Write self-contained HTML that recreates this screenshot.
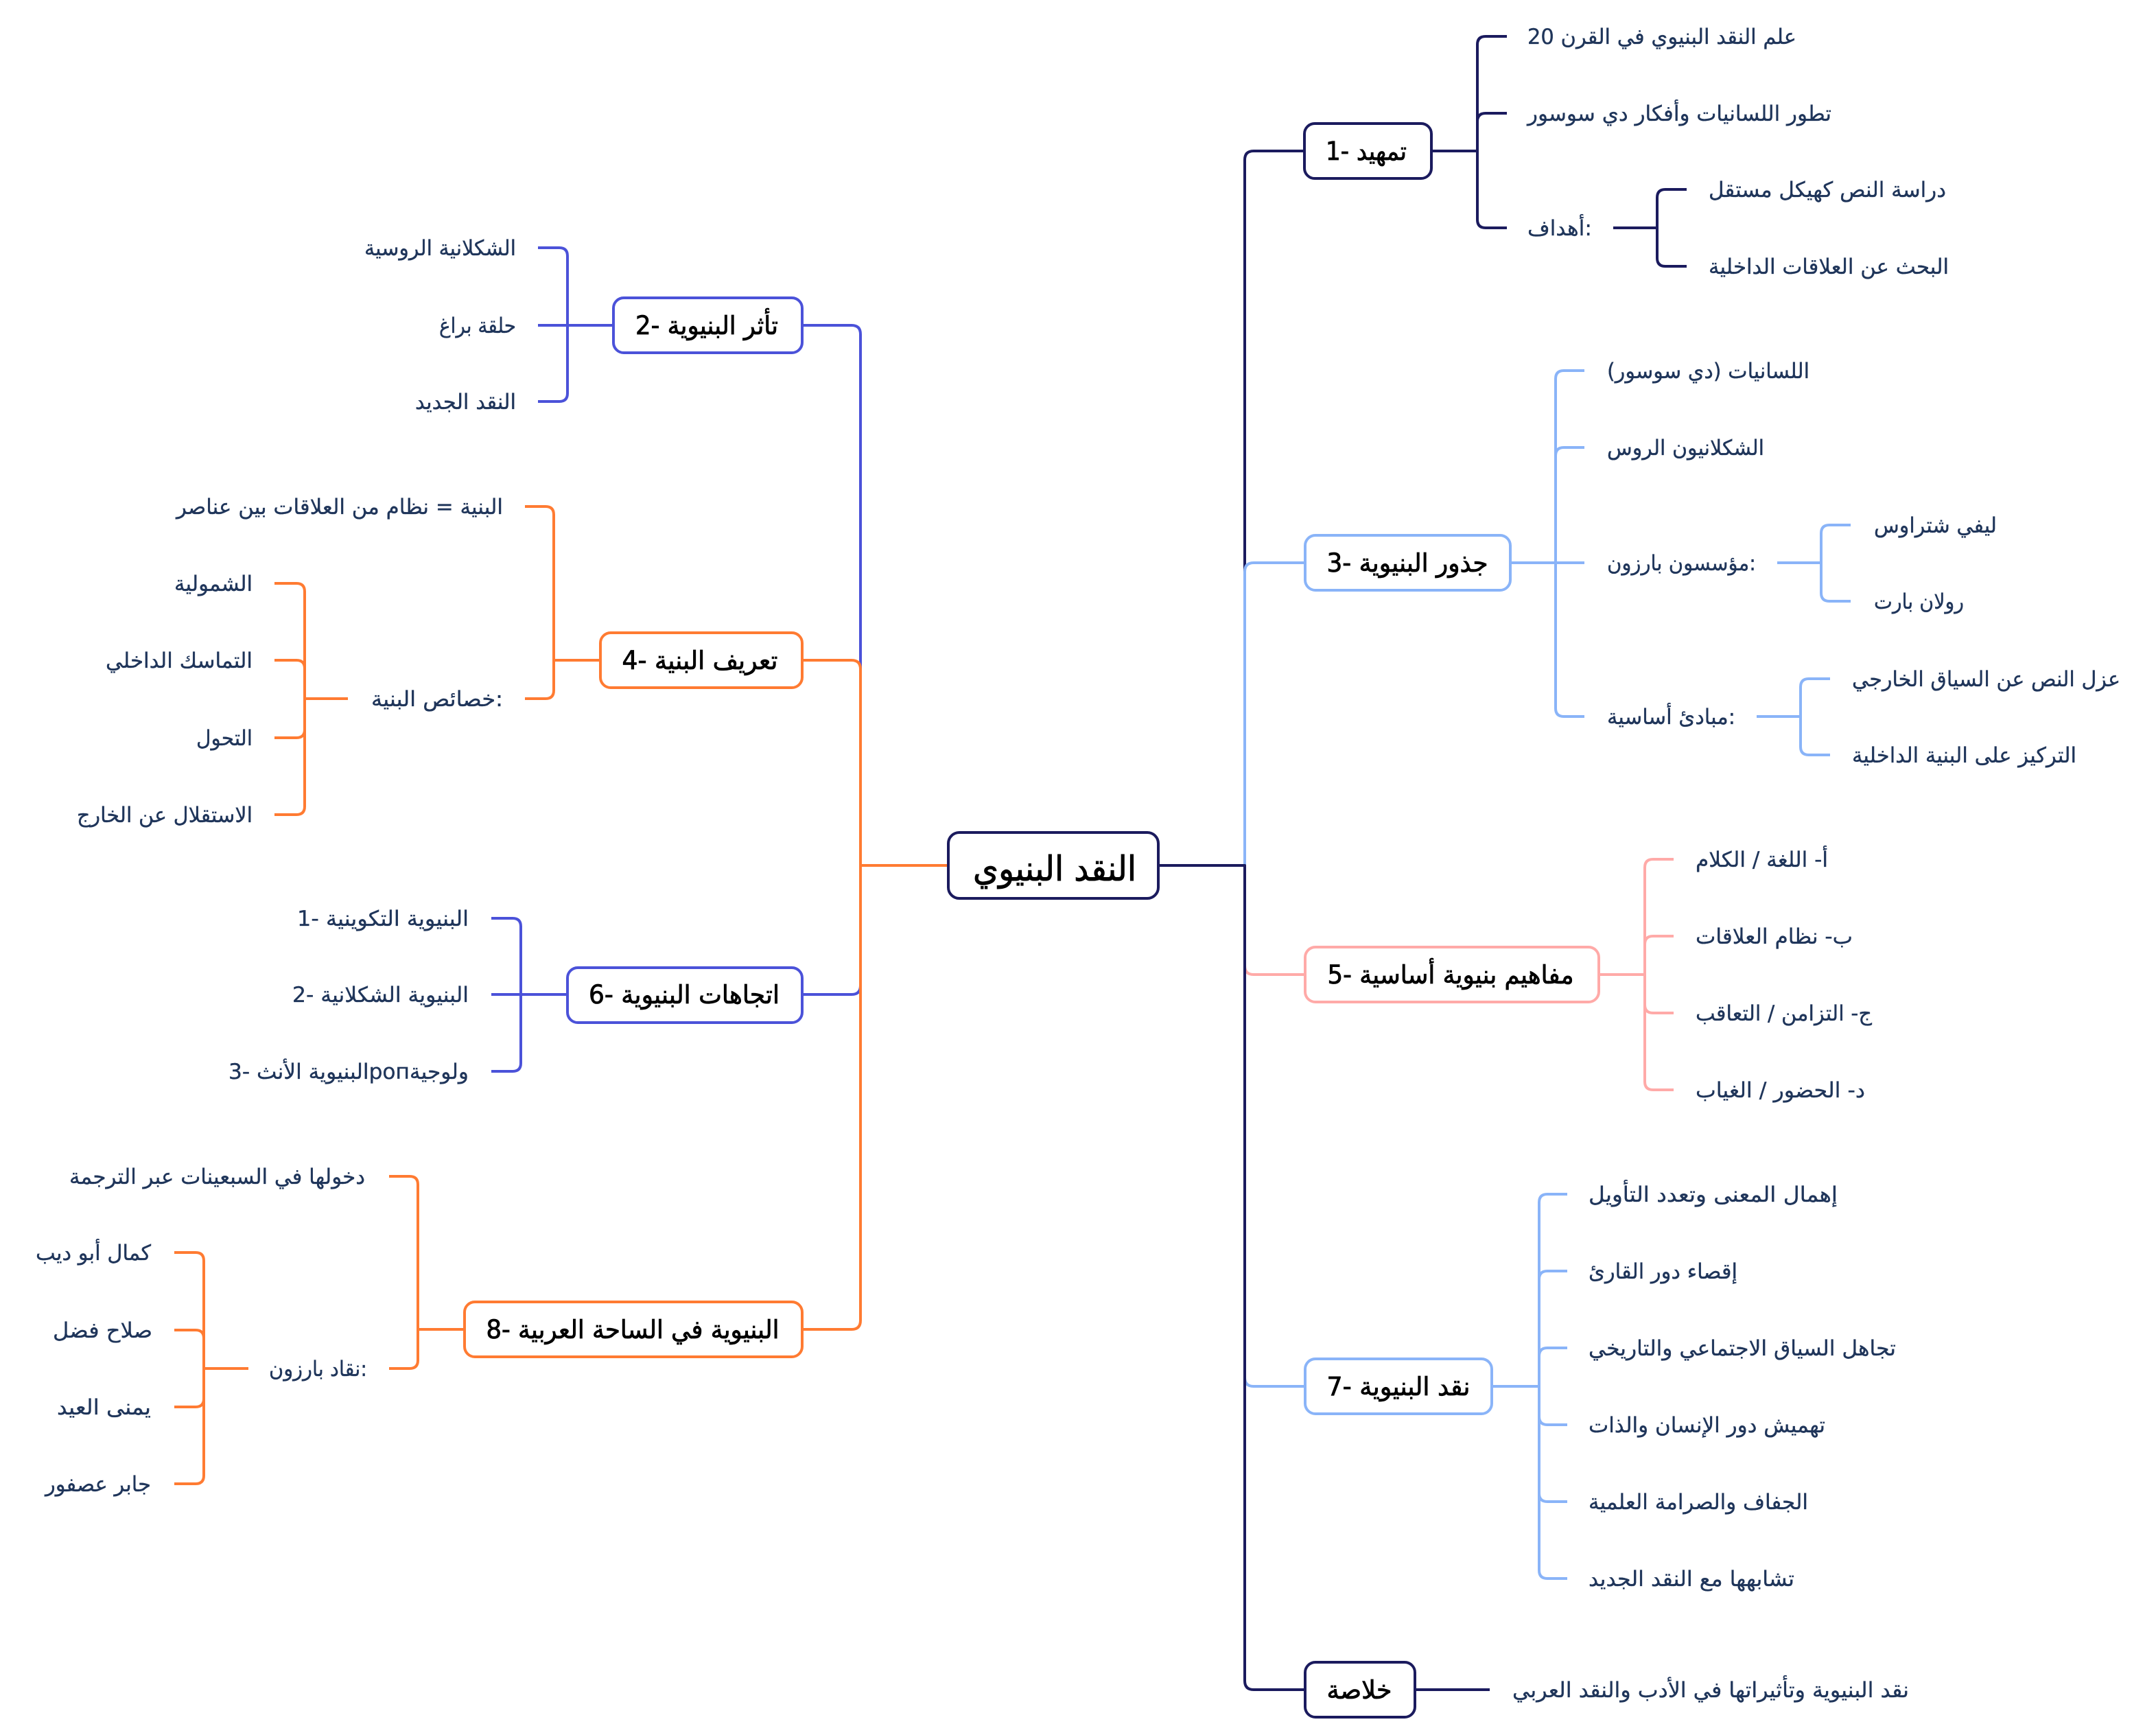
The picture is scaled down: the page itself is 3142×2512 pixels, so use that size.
<!DOCTYPE html>
<html><head><meta charset="utf-8"><style>
html,body{margin:0;padding:0;background:#fff;}
svg{display:block;}
.t{font-family:"DejaVu Sans",sans-serif;font-size:31px;fill:#1f355a;stroke:#1f355a;stroke-width:0.35px;}
.h{font-family:"DejaVu Sans",sans-serif;font-size:37px;fill:#000;stroke:#000;stroke-width:0.8px;}
.c{font-family:"DejaVu Sans",sans-serif;font-size:50px;fill:#000;stroke:#000;stroke-width:0.9px;}
.l{fill:none;stroke-width:4;stroke-linecap:butt;stroke-linejoin:round;}
.nv{stroke:#1b1b5e;} .lb{stroke:#8ab4f8;} .pk{stroke:#ffaaa8;} .ind{stroke:#4b52d9;} .or{stroke:#ff7b32;}
.b{fill:#fff;stroke-width:4;}
</style></head><body>
<svg width="3142" height="2512" viewBox="0 0 3142 2512" xmlns="http://www.w3.org/2000/svg">
<rect width="3142" height="2512" fill="#fff"/>

<!-- main right trunk -->
<path class="l nv" d="M1814 1261 V233 Q1814 220 1827 220 H1901"/>
<path class="l lb" d="M1814 1261 V833 Q1814 820 1827 820 H1902"/>
<path class="l pk" d="M1814 1261 V1407 Q1814 1420 1827 1420 H1902"/>
<path class="l lb" d="M1814 1261 V2007 Q1814 2020 1827 2020 H1902"/>
<path class="l nv" d="M1688 1261 H1814 V2449 Q1814 2462 1827 2462 H1902"/>

<!-- main left trunk -->
<path class="l ind" d="M1254 1261 V487 Q1254 474 1241 474 H1169"/>
<path class="l or" d="M1254 1261 V975 Q1254 962 1241 962 H1169"/>
<path class="l ind" d="M1254 1261 V1436 Q1254 1449 1241 1449 H1169"/>
<path class="l or" d="M1382 1261 H1254 V1924 Q1254 1937 1241 1937 H1169"/>

<!-- group 1 -->
<g class="l nv">
<path d="M2086 220 H2153"/>
<path d="M2153 220 V65 Q2153 53 2165 53 H2196"/>
<path d="M2153 220 V177 Q2153 165 2165 165 H2196"/>
<path d="M2153 220 V320 Q2153 332 2165 332 H2196"/>
<path d="M2351 332 H2415"/>
<path d="M2415 332 V288 Q2415 276 2427 276 H2458"/>
<path d="M2415 332 V376 Q2415 388 2427 388 H2458"/>
</g>
<!-- group 3 -->
<g class="l lb">
<path d="M2201 820 H2267"/>
<path d="M2267 820 V552 Q2267 540 2279 540 H2309"/>
<path d="M2267 820 V664 Q2267 652 2279 652 H2309"/>
<path d="M2267 820 H2309"/>
<path d="M2267 820 V1032 Q2267 1044 2279 1044 H2309"/>
<path d="M2590 820 H2654"/>
<path d="M2654 820 V777 Q2654 765 2666 765 H2697"/>
<path d="M2654 820 V864 Q2654 876 2666 876 H2697"/>
<path d="M2560 1044 H2624"/>
<path d="M2624 1044 V1001 Q2624 989 2636 989 H2667"/>
<path d="M2624 1044 V1088 Q2624 1100 2636 1100 H2667"/>
</g>
<!-- group 5 -->
<g class="l pk">
<path d="M2330 1420 H2397"/>
<path d="M2397 1420 V1264 Q2397 1252 2409 1252 H2439"/>
<path d="M2397 1420 V1376 Q2397 1364 2409 1364 H2439"/>
<path d="M2397 1420 V1464 Q2397 1476 2409 1476 H2439"/>
<path d="M2397 1420 V1576 Q2397 1588 2409 1588 H2439"/>
</g>
<!-- group 7 -->
<g class="l lb">
<path d="M2174 2020 H2243"/>
<path d="M2243 2020 V1752 Q2243 1740 2255 1740 H2284"/>
<path d="M2243 2020 V1864 Q2243 1852 2255 1852 H2284"/>
<path d="M2243 2020 V1976 Q2243 1964 2255 1964 H2284"/>
<path d="M2243 2020 V2064 Q2243 2076 2255 2076 H2284"/>
<path d="M2243 2020 V2176 Q2243 2188 2255 2188 H2284"/>
<path d="M2243 2020 V2288 Q2243 2300 2255 2300 H2284"/>
</g>
<!-- khulasa -->
<path class="l nv" d="M2062 2462 H2171"/>

<!-- group 2 -->
<g class="l ind">
<path d="M894 474 H827"/>
<path d="M827 474 V373 Q827 361 815 361 H784"/>
<path d="M827 474 H784"/>
<path d="M827 474 V573 Q827 585 815 585 H784"/>
</g>
<!-- group 4 -->
<g class="l or">
<path d="M875 962 H807"/>
<path d="M807 962 V750 Q807 738 795 738 H765"/>
<path d="M807 962 V1006 Q807 1018 795 1018 H765"/>
<path d="M507 1018 H444"/>
<path d="M444 1018 V862 Q444 850 432 850 H400"/>
<path d="M444 1018 V974 Q444 962 432 962 H400"/>
<path d="M444 1018 V1063 Q444 1075 432 1075 H400"/>
<path d="M444 1018 V1175 Q444 1187 432 1187 H400"/>
</g>
<!-- group 6 -->
<g class="l ind">
<path d="M827 1449 H759"/>
<path d="M759 1449 V1350 Q759 1338 747 1338 H716"/>
<path d="M759 1449 H716"/>
<path d="M759 1449 V1549 Q759 1561 747 1561 H716"/>
</g>
<!-- group 8 -->
<g class="l or">
<path d="M677 1937 H609"/>
<path d="M609 1937 V1726 Q609 1714 597 1714 H567"/>
<path d="M609 1937 V1982 Q609 1994 597 1994 H567"/>
<path d="M362 1994 H297"/>
<path d="M297 1994 V1837 Q297 1825 285 1825 H254"/>
<path d="M297 1994 V1950 Q297 1938 285 1938 H254"/>
<path d="M297 1994 V2038 Q297 2050 285 2050 H254"/>
<path d="M297 1994 V2150 Q297 2162 285 2162 H254"/>
</g>

<!-- boxes -->
<rect class="b nv" x="1382" y="1213" width="306" height="96" rx="16"/>
<rect class="b nv" x="1901" y="180" width="185" height="80" rx="15"/>
<rect class="b lb" x="1902" y="780" width="299" height="80" rx="15"/>
<rect class="b pk" x="1902" y="1380" width="428" height="80" rx="15"/>
<rect class="b lb" x="1902" y="1980" width="272" height="80" rx="15"/>
<rect class="b nv" x="1902" y="2422" width="160" height="80" rx="15"/>
<rect class="b ind" x="894" y="434" width="275" height="80" rx="15"/>
<rect class="b or" x="875" y="922" width="294" height="80" rx="15"/>
<rect class="b ind" x="827" y="1410" width="342" height="80" rx="15"/>
<rect class="b or" x="677" y="1897" width="492" height="80" rx="15"/>

<!-- titles -->
<text class="c" x="1537" y="1283" text-anchor="middle" textLength="238" lengthAdjust="spacingAndGlyphs">النقد البنيوي</text>
<text class="h" x="1991" y="233" text-anchor="middle" textLength="118" lengthAdjust="spacingAndGlyphs">1- تمهيد</text>
<text class="h" x="2051" y="833" text-anchor="middle" textLength="235" lengthAdjust="spacingAndGlyphs">3- جذور البنيوية</text>
<text class="h" x="2114" y="1433" text-anchor="middle" textLength="359" lengthAdjust="spacingAndGlyphs">5- مفاهيم بنيوية أساسية</text>
<text class="h" x="2038" y="2033" text-anchor="middle" textLength="209" lengthAdjust="spacingAndGlyphs">7- نقد البنيوية</text>
<text class="h" x="1981" y="2475" text-anchor="middle" textLength="95" lengthAdjust="spacingAndGlyphs">خلاصة</text>
<text class="h" x="1030" y="487" text-anchor="middle" textLength="208" lengthAdjust="spacingAndGlyphs">2- تأثر البنيوية</text>
<text class="h" x="1020" y="975" text-anchor="middle" textLength="227" lengthAdjust="spacingAndGlyphs">4- تعريف البنية</text>
<text class="h" x="997" y="1462" text-anchor="middle" textLength="278" lengthAdjust="spacingAndGlyphs">6- اتجاهات البنيوية</text>
<text class="h" x="922" y="1950" text-anchor="middle" textLength="427" lengthAdjust="spacingAndGlyphs">8- البنيوية في الساحة العربية</text>

<!-- right items -->
<text class="t" x="2226" y="64" textLength="392" lengthAdjust="spacingAndGlyphs">علم النقد البنيوي في القرن 20</text>
<text class="t" x="2226" y="176" textLength="443" lengthAdjust="spacingAndGlyphs">تطور اللسانيات وأفكار دي سوسور</text>
<text class="t" x="2226" y="343" textLength="94" lengthAdjust="spacingAndGlyphs">أهداف:</text>
<text class="t" x="2490" y="287" textLength="346" lengthAdjust="spacingAndGlyphs">دراسة النص كهيكل مستقل</text>
<text class="t" x="2490" y="399" textLength="350" lengthAdjust="spacingAndGlyphs">البحث عن العلاقات الداخلية</text>

<text class="t" x="2342" y="551" textLength="295" lengthAdjust="spacingAndGlyphs">اللسانيات (دي سوسور)</text>
<text class="t" x="2342" y="663" textLength="229" lengthAdjust="spacingAndGlyphs">الشكلانيون الروس</text>
<text class="t" x="2342" y="831" textLength="217" lengthAdjust="spacingAndGlyphs">مؤسسون بارزون:</text>
<text class="t" x="2731" y="776" textLength="179" lengthAdjust="spacingAndGlyphs">ليفي شتراوس</text>
<text class="t" x="2731" y="887" textLength="131" lengthAdjust="spacingAndGlyphs">رولان بارت</text>
<text class="t" x="2342" y="1055" textLength="187" lengthAdjust="spacingAndGlyphs">مبادئ أساسية:</text>
<text class="t" x="2699" y="1000" textLength="391" lengthAdjust="spacingAndGlyphs">عزل النص عن السياق الخارجي</text>
<text class="t" x="2699" y="1111" textLength="327" lengthAdjust="spacingAndGlyphs">التركيز على البنية الداخلية</text>

<text class="t" x="2471" y="1263" textLength="193" lengthAdjust="spacingAndGlyphs">أ- اللغة / الكلام</text>
<text class="t" x="2471" y="1375" textLength="229" lengthAdjust="spacingAndGlyphs">ب- نظام العلاقات</text>
<text class="t" x="2471" y="1487" textLength="257" lengthAdjust="spacingAndGlyphs">ج- التزامن / التعاقب</text>
<text class="t" x="2471" y="1599" textLength="247" lengthAdjust="spacingAndGlyphs">د- الحضور / الغياب</text>

<text class="t" x="2315" y="1751" textLength="363" lengthAdjust="spacingAndGlyphs">إهمال المعنى وتعدد التأويل</text>
<text class="t" x="2315" y="1863" textLength="217" lengthAdjust="spacingAndGlyphs">إقصاء دور القارئ</text>
<text class="t" x="2315" y="1975" textLength="448" lengthAdjust="spacingAndGlyphs">تجاهل السياق الاجتماعي والتاريخي</text>
<text class="t" x="2315" y="2087" textLength="345" lengthAdjust="spacingAndGlyphs">تهميش دور الإنسان والذات</text>
<text class="t" x="2315" y="2199" textLength="320" lengthAdjust="spacingAndGlyphs">الجفاف والصرامة العلمية</text>
<text class="t" x="2315" y="2311" textLength="300" lengthAdjust="spacingAndGlyphs">تشابهها مع النقد الجديد</text>

<text class="t" x="2204" y="2473" textLength="578" lengthAdjust="spacingAndGlyphs">نقد البنيوية وتأثيراتها في الأدب والنقد العربي</text>

<!-- left items -->
<text class="t" x="752" y="372" text-anchor="end" textLength="221" lengthAdjust="spacingAndGlyphs">الشكلانية الروسية</text>
<text class="t" x="752" y="485" text-anchor="end" textLength="112" lengthAdjust="spacingAndGlyphs">حلقة براغ</text>
<text class="t" x="752" y="596" text-anchor="end" textLength="147" lengthAdjust="spacingAndGlyphs">النقد الجديد</text>

<text class="t" x="733" y="749" text-anchor="end" textLength="476" lengthAdjust="spacingAndGlyphs">البنية = نظام من العلاقات بين عناصر</text>
<text class="t" x="733" y="1029" text-anchor="end" textLength="192" lengthAdjust="spacingAndGlyphs">خصائص البنية:</text>
<text class="t" x="368" y="861" text-anchor="end" textLength="114" lengthAdjust="spacingAndGlyphs">الشمولية</text>
<text class="t" x="368" y="973" text-anchor="end" textLength="214" lengthAdjust="spacingAndGlyphs">التماسك الداخلي</text>
<text class="t" x="368" y="1086" text-anchor="end" textLength="82" lengthAdjust="spacingAndGlyphs">التحول</text>
<text class="t" x="368" y="1198" text-anchor="end" textLength="256" lengthAdjust="spacingAndGlyphs">الاستقلال عن الخارج</text>

<text class="t" x="683" y="1349" text-anchor="end" textLength="250" lengthAdjust="spacingAndGlyphs">1- البنيوية التكوينية</text>
<text class="t" x="683" y="1460" text-anchor="end" textLength="257" lengthAdjust="spacingAndGlyphs">2- البنيوية الشكلانية</text>
<text class="t" x="683" y="1572" text-anchor="end" textLength="350" lengthAdjust="spacingAndGlyphs">3- البنيوية الأنثpoпولوجية</text>

<text class="t" x="532" y="1725" text-anchor="end" textLength="431" lengthAdjust="spacingAndGlyphs">دخولها في السبعينات عبر الترجمة</text>
<text class="t" x="535" y="2005" text-anchor="end" textLength="143" lengthAdjust="spacingAndGlyphs">نقاد بارزون:</text>
<text class="t" x="220" y="1836" text-anchor="end" textLength="168" lengthAdjust="spacingAndGlyphs">كمال أبو ديب</text>
<text class="t" x="222" y="1949" text-anchor="end" textLength="145" lengthAdjust="spacingAndGlyphs">صلاح فضل</text>
<text class="t" x="220" y="2061" text-anchor="end" textLength="137" lengthAdjust="spacingAndGlyphs">يمنى العيد</text>
<text class="t" x="220" y="2173" text-anchor="end" textLength="154" lengthAdjust="spacingAndGlyphs">جابر عصفور</text>
</svg>
</body></html>
